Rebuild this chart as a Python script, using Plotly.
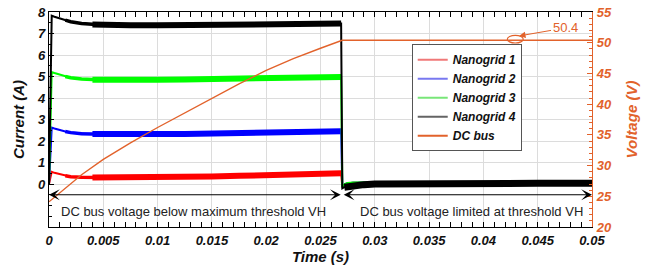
import plotly.graph_objects as go

# ---------------- data ----------------
t_pre = [0, 0.00025, 0.0005, 0.001, 0.0015, 0.002, 0.003, 0.004, 0.005, 0.0075,
         0.01, 0.0125, 0.015, 0.0175, 0.02, 0.0225, 0.025, 0.0269]
t_post = [0.02701, 0.0272, 0.0275, 0.028, 0.029, 0.03, 0.035, 0.04, 0.045, 0.05]

ng1_pre = [0, 0.57, 0.52, 0.45, 0.38, 0.34, 0.31, 0.30, 0.30, 0.30,
           0.31, 0.33, 0.35, 0.38, 0.40, 0.43, 0.46, 0.50]
ng2_pre = [0, 2.62, 2.58, 2.5, 2.44, 2.39, 2.34, 2.32, 2.31, 2.31,
           2.32, 2.33, 2.35, 2.37, 2.39, 2.41, 2.43, 2.45]
ng3_pre = [0, 5.2, 5.16, 5.08, 5.0, 4.94, 4.88, 4.85, 4.84, 4.84,
           4.85, 4.86, 4.88, 4.9, 4.92, 4.94, 4.96, 4.98]
ng4_pre = [0, 7.83, 7.78, 7.7, 7.62, 7.55, 7.47, 7.42, 7.40, 7.38,
           7.38, 7.39, 7.40, 7.41, 7.42, 7.43, 7.44, 7.46]

ng1_post = [-0.15, -0.05, 0.0, 0.03, 0.04, 0.04, 0.04, 0.04, 0.04, 0.04]
ng2_post = [-0.15, -0.04, 0.01, 0.04, 0.05, 0.05, 0.04, 0.04, 0.04, 0.04]
ng3_post = [-0.15, -0.03, 0.02, 0.05, 0.06, 0.05, 0.04, 0.04, 0.04, 0.04]
ng4_post = [-0.2, -0.15, -0.12, -0.08, -0.03, 0.0, 0.03, 0.03, 0.03, 0.03]

t_bus = [0, 0.001, 0.002, 0.003, 0.005, 0.0075, 0.01, 0.0125, 0.015, 0.0175,
         0.02, 0.0225, 0.025, 0.027, 0.05]
v_bus = [24.1, 25.6, 27.1, 28.5, 31.0, 33.7, 36.2, 38.6, 40.9, 43.3,
         45.5, 47.4, 49.1, 50.4, 50.4]

names = ["Nanogrid 1", "Nanogrid 2", "Nanogrid 3", "Nanogrid 4"]
colors = ["#ff0000", "#0000ff", "#00ff00", "#000000"]
legend_colors = ["#f07878", "#7878f0", "#78e678", "#646464"]
bus_color = "#e2622b"
pre_series = [ng1_pre, ng2_pre, ng3_pre, ng4_pre]
post_series = [ng1_post, ng2_post, ng3_post, ng4_post]

x_ticks = [0, 0.005, 0.01, 0.015, 0.02, 0.025, 0.03, 0.035, 0.04, 0.045, 0.05]
x_ticktext = ["0", "0.005", "0.01", "0.015", "0.02", "0.025", "0.03", "0.035",
              "0.04", "0.045", "0.05"]
y_ticks = [0, 1, 2, 3, 4, 5, 6, 7, 8]
y2_ticks = [20, 25, 30, 35, 40, 45, 50, 55]

split_t = 0.027
arrow_level = -0.5
label_level = -1.3
bus_limit = 50.4

FONT = "Liberation Sans, Arial, sans-serif"

fig = go.Figure()

steady_start = 7  # index where the noisy steady band begins
for name, col, pre, post in zip(names, colors, pre_series, post_series):
    # thin full trace (transient + vertical drop)
    fig.add_trace(go.Scatter(x=t_pre + t_post, y=pre + post, mode="lines",
                             line=dict(color=col, width=2), showlegend=False,
                             hoverinfo="skip"))
    # noisy band before the drop: growing thickness
    fig.add_trace(go.Scatter(x=t_pre[4:steady_start + 2], y=pre[4:steady_start + 2],
                             mode="lines", line=dict(color=col, width=3.5),
                             showlegend=False, hoverinfo="skip"))
    fig.add_trace(go.Scatter(x=t_pre[steady_start:], y=pre[steady_start:], mode="lines",
                             line=dict(color=col, width=6), showlegend=False,
                             hoverinfo="skip"))
# post-drop thick bands (black on top)
for name, col, post in zip(names, colors, post_series):
    fig.add_trace(go.Scatter(x=t_post[1:], y=post[1:], mode="lines",
                             line=dict(color=col, width=3 if col != "#000000" else 7),
                             showlegend=False, hoverinfo="skip"))

fig.add_trace(go.Scatter(x=t_bus, y=v_bus, mode="lines", yaxis="y2",
                         line=dict(color=bus_color, width=1.4),
                         showlegend=False, hoverinfo="skip"))

# legend entries
for name, lc in zip(names, legend_colors):
    fig.add_trace(go.Scatter(x=[None], y=[None], mode="lines", name=name,
                             line=dict(color=lc, width=2)))
fig.add_trace(go.Scatter(x=[None], y=[None], mode="lines", name="DC bus",
                         yaxis="y2", line=dict(color=bus_color, width=2)))

tickfont = dict(family=FONT, size=13, color="#111111", weight="bold", style="italic")

fig.update_layout(
    width=650, height=270,
    margin=dict(l=49, r=58, t=12, b=43),
    paper_bgcolor="white", plot_bgcolor="white",
    font=dict(family=FONT),
    xaxis=dict(
        range=[0, 0.05], tickmode="array", tickvals=x_ticks, ticktext=x_ticktext,
        ticks="inside", ticklen=5, tickcolor="black", tickwidth=1,
        minor=dict(ticks="inside", dtick=0.001, tick0=0, ticklen=3, tickcolor="black",
                   showgrid=False),
        showline=True, linecolor="black", linewidth=1.2, mirror="allticks",
        showgrid=True, gridcolor="#dcdcdc", gridwidth=1, zeroline=False,
        tickfont=tickfont, automargin=False, ticklabelstandoff=1,
        title=dict(text="Time (s)", standoff=4,
                   font=dict(family=FONT, size=15, color="#111111", weight="bold",
                             style="italic")),
    ),
    yaxis=dict(
        range=[-2, 8], tickmode="array", tickvals=y_ticks,
        ticks="inside", ticklen=5, tickcolor="black",
        minor=dict(ticks="inside", dtick=0.5, tick0=0, ticklen=3, tickcolor="black",
                   showgrid=False),
        showline=True, linecolor="black", linewidth=1.2,
        showgrid=True, gridcolor="#dcdcdc", zeroline=False,
        tickfont=tickfont, automargin=False,
        title=dict(text="Current (A)", standoff=8,
                   font=dict(family=FONT, size=15, color="#111111", weight="bold",
                             style="italic")),
    ),
    yaxis2=dict(
        range=[20, 55], overlaying="y", side="right", tickmode="array",
        tickvals=y2_ticks, ticks="inside", ticklen=5, tickcolor=bus_color,
        minor=dict(ticks="inside", dtick=1, tick0=20, ticklen=3, tickcolor=bus_color,
                   showgrid=False),
        showline=True, linecolor=bus_color, linewidth=1.2,
        showgrid=False, zeroline=False,
        tickfont=dict(family=FONT, size=13, color=bus_color, weight="bold", style="italic"),
        automargin=False, ticklabelstandoff=1,
        title=dict(text="Voltage (V)", standoff=15,
                   font=dict(family=FONT, size=15, color=bus_color, weight="bold",
                             style="italic")),
    ),
    legend=dict(
        x=0.668, y=0.85, xanchor="left", yanchor="top",
        bgcolor="white", bordercolor="#555555", borderwidth=1,
        font=dict(family=FONT, size=12, color="#111111", weight="bold", style="italic"),
        tracegroupgap=0, itemwidth=30,
    ),
    showlegend=True,
)

# double-headed arrows marking the two regimes
for end_t in [0, 0.05]:
    fig.add_annotation(x=end_t, y=arrow_level, ax=split_t, ay=arrow_level, xref="x",
                       yref="y", axref="x", ayref="y", text="", showarrow=True,
                       arrowhead=3, startarrowhead=3, arrowside="end+start",
                       arrowsize=1.8, startarrowsize=1.8, arrowwidth=1,
                       arrowcolor="black")
fig.add_annotation(x=0.01326, y=label_level, xref="x", yref="y", showarrow=False,
                   text="DC bus voltage below maximum threshold VH",
                   font=dict(family=FONT, size=13, color="#222222"))
fig.add_annotation(x=0.03886, y=label_level, xref="x", yref="y", showarrow=False,
                   text="DC bus voltage limited at threshold VH",
                   font=dict(family=FONT, size=13, color="#222222"))

# 50.4 callout
fig.add_shape(type="circle", xref="x", yref="y2",
              x0=0.04220, x1=0.04367, y0=bus_limit - 0.45, y1=bus_limit + 0.8,
              line=dict(color=bus_color, width=1.2))
fig.add_annotation(x=0.04328, y=51.1, xref="x", yref="y2", ax=46, ay=-8,
                   text=str(bus_limit), showarrow=True, arrowhead=2, arrowsize=1.3,
                   arrowwidth=1, arrowcolor=bus_color,
                   font=dict(family=FONT, size=13, color=bus_color))

fig.write_html("out.html", config={"displayModeBar": False},
               post_script="document.body.style.margin='0';document.body.style.overflow='hidden';")
